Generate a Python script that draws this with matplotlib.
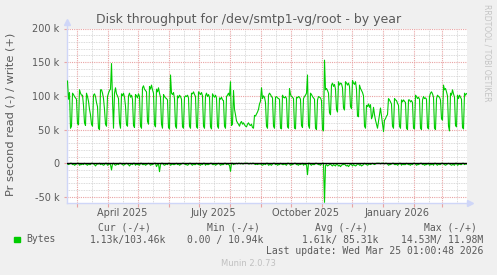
import numpy as np
import pandas as pd
import matplotlib
matplotlib.use("Agg")
import matplotlib.pyplot as plt
import matplotlib.dates as mdates
from matplotlib.ticker import MultipleLocator, FixedLocator

# Daily averages, in k (Wed 2025-02-19 ... Wed 2026-03-25), rows are weeks Mon..Sun
write_k = [
    [122, 95, 105, 52, 55],
    [104, 102, 99, 97, 95, 59, 57],
    [109, 104, 101, 101, 86, 60, 56],
    [104, 99, 92, 80, 72, 58, 55],
    [101, 103, 99, 90, 84, 52, 50],
    [109, 109, 104, 96, 80, 58, 55],
    [99, 104, 108, 110, 148, 95, 52],
    [104, 112, 103, 100, 96, 60, 52],
    [103, 100, 104, 98, 85, 57, 55],
    [100, 104, 98, 101, 95, 56, 53],
    [102, 100, 97, 103, 99, 55, 52],
    [112, 115, 110, 108, 106, 62, 58],
    [114, 110, 116, 109, 104, 57, 54],
    [110, 106, 112, 104, 98, 58, 52],
    [102, 99, 97, 96, 94, 53, 51],
    [131, 104, 102, 105, 96, 55, 52],
    [100, 97, 101, 99, 95, 54, 52],
    [98, 100, 99, 101, 97, 55, 52],
    [104, 103, 106, 102, 99, 54, 52],
    [106, 104, 102, 105, 100, 55, 52],
    [100, 104, 99, 102, 98, 54, 51],
    [103, 100, 98, 101, 97, 55, 52],
    [97, 95, 98, 94, 93, 55, 52],
    [99, 101, 104, 100, 121, 56, 58],
    [108, 80, 72, 63, 60, 58, 55],
    [60, 62, 58, 60, 57, 55, 54],
    [58, 60, 57, 56, 58, 53, 52],
    [71, 70, 73, 76, 80, 88, 92],
    [112, 96, 100, 98, 90, 55, 52],
    [101, 104, 102, 99, 97, 55, 52],
    [98, 99, 97, 96, 95, 52, 51],
    [101, 98, 97, 99, 96, 54, 52],
    [111, 102, 99, 98, 96, 52, 51],
    [98, 97, 99, 98, 95, 56, 53],
    [96, 99, 101, 104, 131, 56, 52],
    [104, 102, 99, 97, 95, 52, 50],
    [94, 99, 98, 97, 93, 50, 48],
    [153, 109, 111, 108, 104, 75, 72],
    [116, 119, 114, 117, 110, 80, 76],
    [121, 116, 119, 118, 112, 82, 79],
    [121, 119, 116, 119, 114, 84, 81],
    [123, 119, 117, 121, 110, 70, 69],
    [116, 111, 108, 105, 100, 55, 52],
    [86, 84, 88, 83, 87, 66, 70],
    [83, 72, 64, 58, 52, 62, 72],
    [82, 70, 59, 47, 64, 66, 70],
    [72, 96, 94, 91, 88, 55, 52],
    [96, 94, 93, 89, 86, 55, 52],
    [94, 91, 94, 92, 90, 52, 50],
    [94, 94, 91, 93, 90, 52, 51],
    [101, 99, 96, 98, 95, 52, 50],
    [94, 99, 96, 97, 95, 53, 51],
    [99, 104, 106, 103, 98, 52, 50],
    [96, 101, 99, 98, 94, 66, 64],
    [116, 109, 111, 106, 100, 55, 48],
    [104, 101, 109, 103, 98, 56, 54],
    [101, 96, 101, 98, 95, 53, 51],
    [104, 101, 103.46],
]
read_k = [
    [1, 2, 1, 0, 0],
    [2, 1, 3, 2, 1, 0, 0],
    [3, 2, 2, 1, 2, 0, 1],
    [2, 3, 1, 2, 2, 0, 0],
    [1, 2, 4, 2, 1, 1, 0],
    [2, 1, 2, 3, 2, 0, 0],
    [3, 2, 1, 2, 10, 1, 0],
    [2, 3, 2, 1, 2, 0, 0],
    [1, 2, 3, 2, 1, 0, 1],
    [2, 4, 2, 1, 2, 0, 0],
    [3, 1, 2, 2, 3, 0, 0],
    [2, 2, 1, 3, 2, 1, 0],
    [1, 3, 2, 2, 1, 0, 0],
    [5, 2, 1, 12.5, 2, 0, 0],
    [2, 3, 2, 1, 2, 0, 0],
    [3, 2, 1, 2, 2, 1, 0],
    [2, 1, 3, 2, 1, 0, 0],
    [1, 2, 2, 3, 2, 0, 0],
    [2, 3, 1, 2, 2, 0, 1],
    [2, 2, 3, 1, 2, 0, 0],
    [3, 1, 2, 2, 1, 0, 0],
    [2, 2, 1, 3, 2, 1, 0],
    [1, 3, 2, 2, 2, 0, 0],
    [2, 1, 2, 3, 12, 0, 0],
    [2, 1, 1, 0, 1, 0, 0],
    [1, 0, 1, 1, 0, 0, 0],
    [0, 1, 1, 0, 1, 0, 0],
    [1, 2, 1, 2, 1, 1, 1],
    [2, 3, 2, 1, 2, 0, 0],
    [3, 2, 2, 3, 1, 0, 0],
    [2, 1, 3, 2, 2, 0, 1],
    [2, 2, 1, 2, 3, 0, 0],
    [1, 3, 2, 2, 1, 0, 0],
    [2, 2, 3, 1, 2, 1, 0],
    [3, 1, 2, 2, 17, 0, 0],
    [2, 3, 1, 2, 2, 0, 0],
    [1, 2, 2, 3, 1, 0, 0],
    [58, 3, 2, 4, 3, 2, 1],
    [3, 4, 2, 3, 4, 1, 2],
    [4, 3, 5, 3, 2, 2, 1],
    [3, 4, 3, 5, 3, 1, 2],
    [4, 2, 3, 4, 3, 1, 1],
    [3, 2, 4, 3, 2, 0, 1],
    [2, 3, 2, 1, 2, 1, 0],
    [1, 2, 1, 0, 0, 0, 0],
    [1, 0, 0, 0, 1, 0, 0],
    [1, 3, 2, 2, 1, 0, 0],
    [2, 2, 1, 3, 2, 0, 0],
    [3, 1, 2, 2, 2, 0, 1],
    [2, 2, 3, 1, 2, 0, 0],
    [1, 3, 2, 2, 1, 0, 0],
    [2, 1, 3, 2, 2, 1, 0],
    [3, 2, 2, 1, 3, 0, 0],
    [2, 3, 1, 2, 2, 0, 0],
    [1, 2, 3, 2, 1, 0, 1],
    [2, 3, 2, 2, 3, 0, 0],
    [3, 2, 1, 2, 2, 0, 0],
    [2, 1, 1.13],
]
start_day = "2025-02-19"
x_labels = ["April 2025", "July 2025", "October 2025", "January 2026"]
x_label_days = ["2025-04-15", "2025-07-15", "2025-10-15", "2026-01-15"]
y_ticks = [-50000, 0, 50000, 100000, 150000, 200000]
y_ticklabels = ["-50 k", "0", "50 k", "100 k", "150 k", "200 k"]
legend_head = ["Cur (-/+)", "Min (-/+)", "Avg (-/+)", "Max (-/+)"]
legend_vals = ["1.13k/103.46k", "0.00 / 10.94k", "1.61k/ 85.31k", "14.53M/ 11.98M"]

write = np.concatenate([np.array(w, float) for w in write_k]) * 1000
read = np.concatenate([np.array(r, float) for r in read_k]) * 1000
days = pd.date_range(start_day, periods=len(write), freq="D") + pd.Timedelta(hours=12)

# colours (munin defaults)
BACK = "#f0f0f0"
FONT = "#5a5a5a"
AXIS = "#cfd6f8"
GREEN = "#00cc00"
MGRID = "#e9a3a3"
GRID = "#cfcfcf"

W, H = 497, 275
fig = plt.figure(figsize=(W / 100, H / 100), dpi=100, facecolor=BACK)
ax = fig.add_axes([67 / W, 1 - 203 / H, 400 / W, (203 - 28.5) / H])
ax.set_facecolor("white")

ax.plot(days, -read, color=GREEN, lw=0.8, zorder=3)
ax.plot(days, write, color=GREEN, lw=0.8, zorder=3)
ax.axhline(0, color="black", lw=1.0, zorder=4)

ax.set_xlim(pd.Timestamp("2025-02-19"), pd.Timestamp("2026-03-26"))
ax.set_ylim(-59000, 200000)

# y grid
ax.yaxis.set_major_locator(FixedLocator(y_ticks))
ax.set_yticklabels(y_ticklabels)
ax.yaxis.set_minor_locator(MultipleLocator(10000))
ax.grid(which="major", axis="y", color=MGRID, ls=(0, (1, 1)), lw=0.8)
ax.grid(which="minor", axis="y", color=GRID, ls=(0, (1, 1)), lw=0.6)

# x grid: red at month starts, grey at mid month
ax.xaxis.set_major_locator(mdates.MonthLocator())
ax.xaxis.set_minor_locator(mdates.MonthLocator(bymonthday=16))
ax.xaxis.set_major_formatter(plt.NullFormatter())
ax.grid(which="major", axis="x", color=MGRID, ls=(0, (1, 1)), lw=0.8)
ax.grid(which="minor", axis="x", color=GRID, ls=(0, (1, 1)), lw=0.6)
ax.set_axisbelow(True)

ax.tick_params(axis="x", which="major", length=3, color=MGRID)
ax.tick_params(axis="x", which="minor", length=0)
ax.tick_params(axis="y", which="major", length=2, color=MGRID, labelsize=7,
               labelcolor=FONT, pad=3.5)
ax.tick_params(axis="y", which="minor", length=0)

sec = ax.secondary_xaxis("bottom")
sec.set_xticks(pd.to_datetime(x_label_days), labels=x_labels)
sec.tick_params(length=0, labelsize=7, labelcolor=FONT, pad=3.5)
sec.spines["bottom"].set_visible(False)

for s in ["top", "right"]:
    ax.spines[s].set_visible(False)
for s in ["left", "bottom"]:
    ax.spines[s].set_color(AXIS)
    ax.spines[s].set_linewidth(1.0)

# axis extensions and arrows
ax.plot([0, 0], [1.0, 1.03], color=AXIS, lw=1.0, transform=ax.transAxes, clip_on=False)
ax.plot([1.0, 1.0075], [0, 0], color=AXIS, lw=1.0, transform=ax.transAxes, clip_on=False)
ax.plot([0], [1.035], marker="^", ms=4, color=AXIS, transform=ax.transAxes, clip_on=False)
ax.plot([1.0085], [0], marker=">", ms=4, color=AXIS, transform=ax.transAxes, clip_on=False)

fig.text(249 / W, 1 - 19 / H, "Disk throughput for /dev/smtp1-vg/root - by year",
         ha="center", va="center", fontsize=9, color=FONT)
fig.text(10.5 / W, 1 - 114 / H, "Pr second read (-) / write (+)", rotation=90,
         ha="center", va="center", fontsize=8.2, color=FONT)
fig.text(487.5 / W, 1 - 53 / H, "RRDTOOL / TOBI OETIKER", rotation=270,
         ha="center", va="center", fontsize=5.5, color="#c4c4c4")

mono = "DejaVu Sans Mono"
fig.patches.append(plt.Rectangle((14 / W, 1 - 242 / H), 5.5 / W, 5.5 / H,
                                 transform=fig.transFigure, color=GREEN))
fig.text(26.5 / W, 1 - 239.5 / H, "Bytes", family=mono, fontsize=7, color=FONT,
         ha="left", va="center")
head_right = [151, 259.5, 368, 477]
val_right = [166, 263.5, 378, 483]
for t, xr in zip(legend_head, head_right):
    fig.text(xr / W, 1 - 228 / H, t, family=mono, fontsize=7, color=FONT,
             ha="right", va="center")
for t, xr in zip(legend_vals, val_right):
    fig.text(xr / W, 1 - 239.5 / H, t, family=mono, fontsize=7, color=FONT,
             ha="right", va="center")
fig.text(483 / W, 1 - 251 / H, "Last update: Wed Mar 25 01:00:48 2026",
         family=mono, fontsize=7, color=FONT, ha="right", va="center")
fig.text(248 / W, 1 - 264 / H, "Munin 2.0.73", fontsize=6, color="#c0c0c0",
         ha="center", va="center")

fig.savefig("out.png", dpi=100, facecolor=BACK)
